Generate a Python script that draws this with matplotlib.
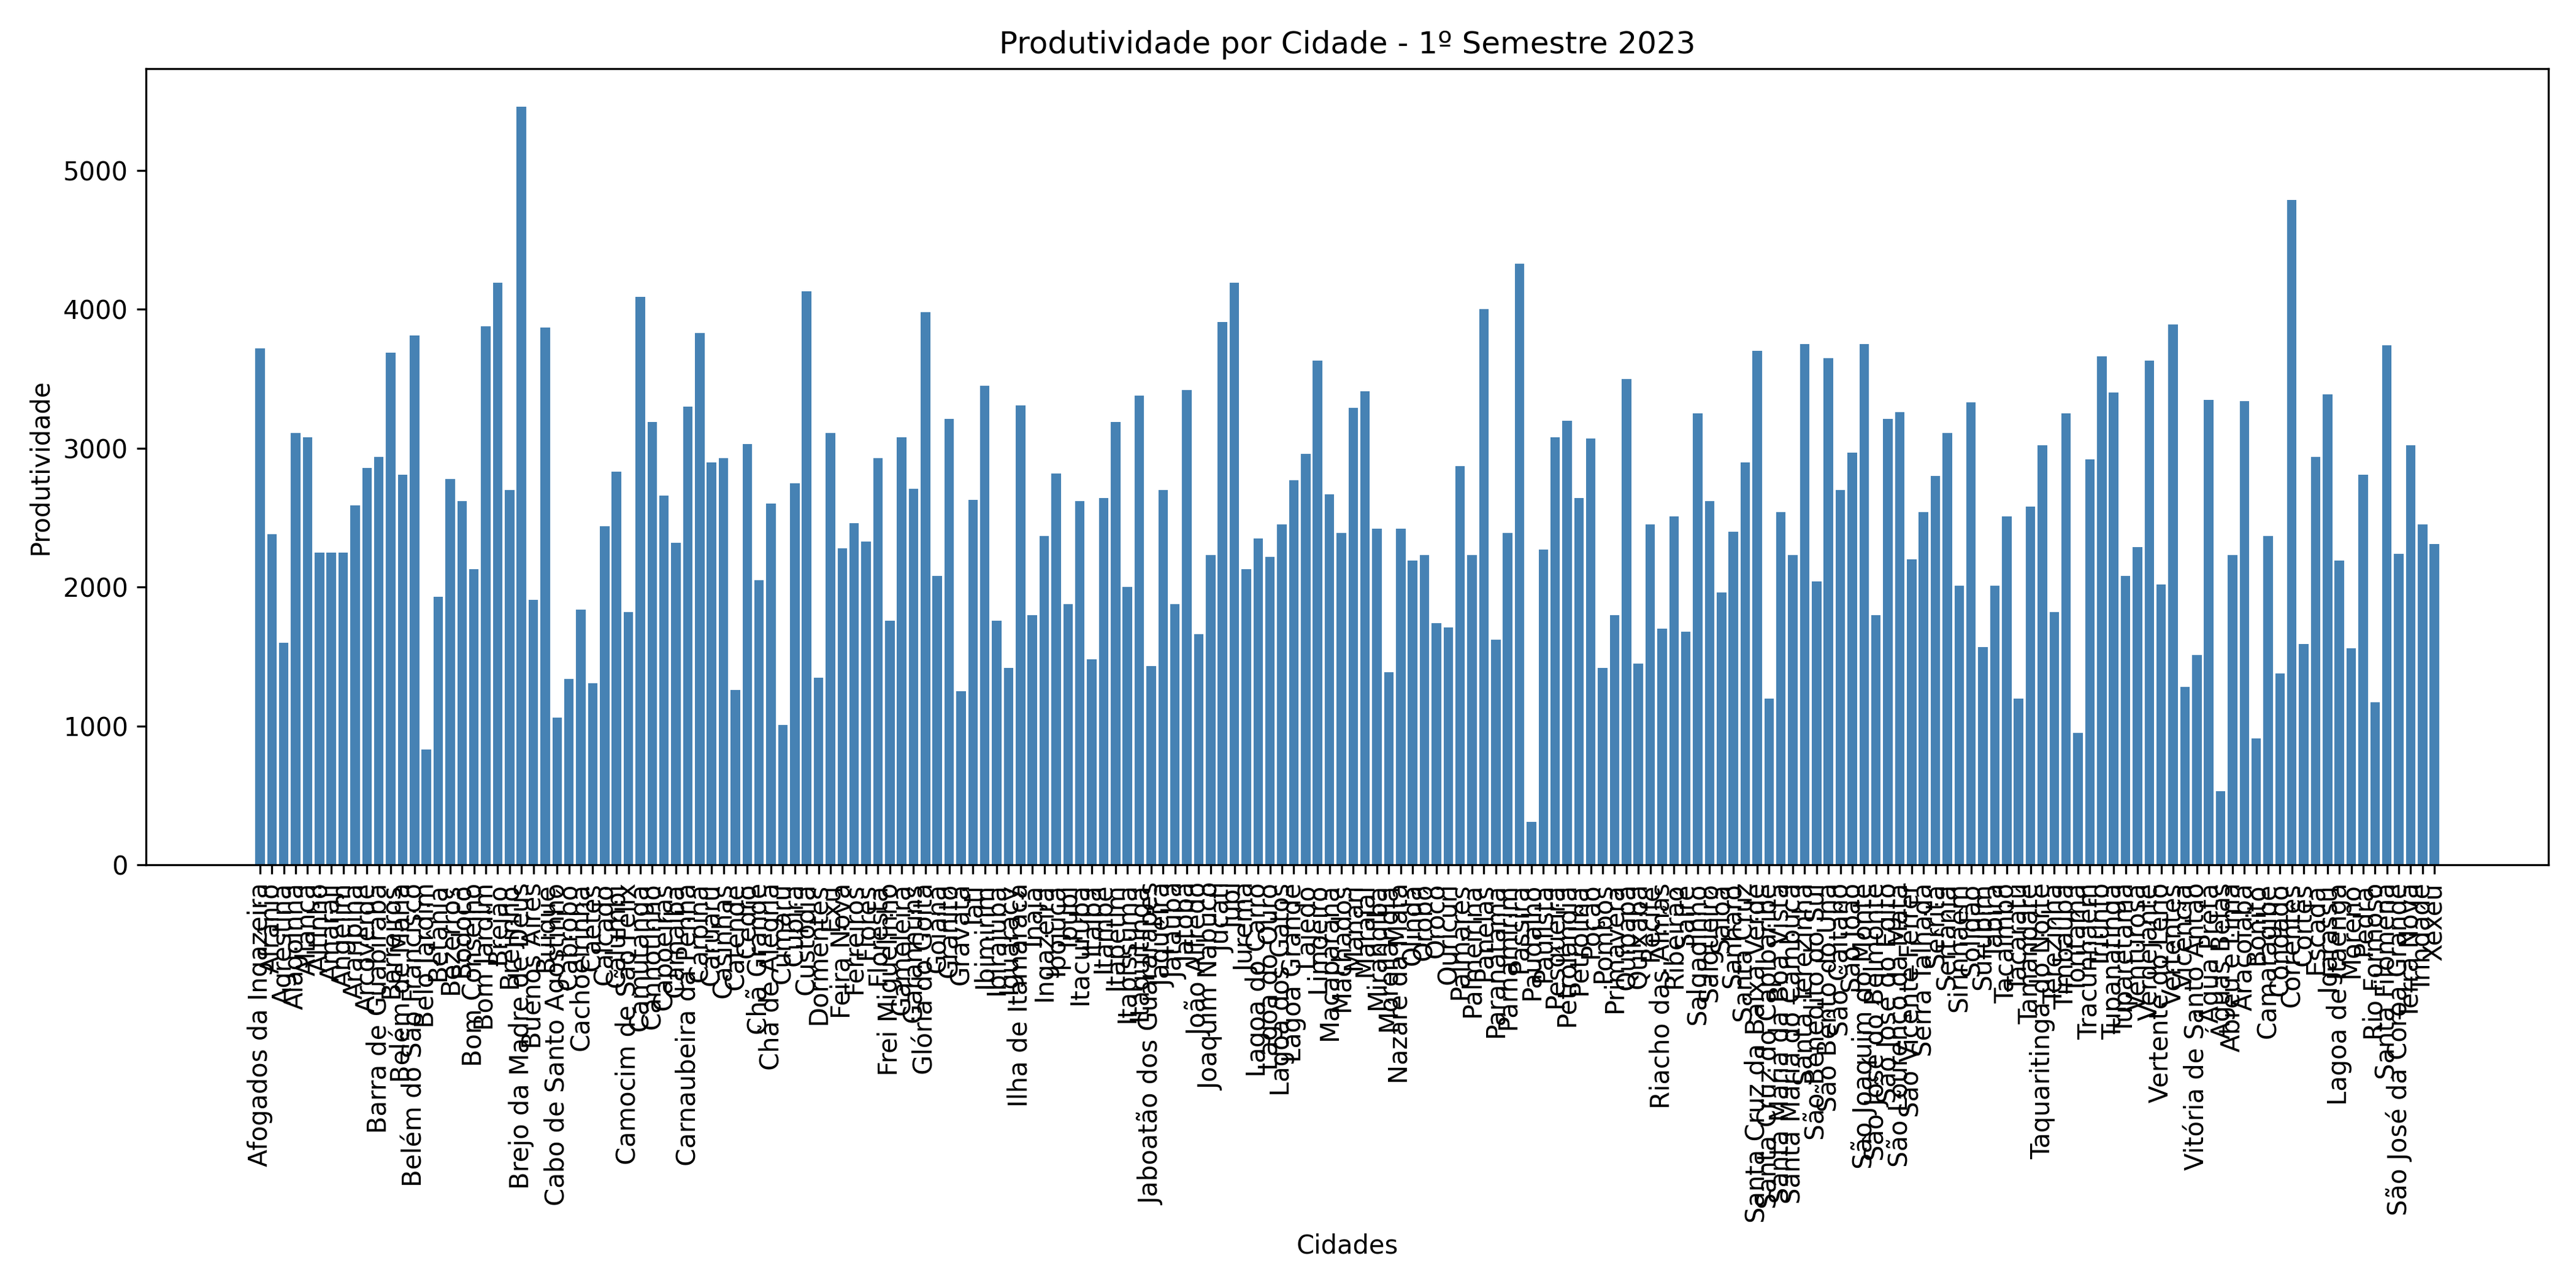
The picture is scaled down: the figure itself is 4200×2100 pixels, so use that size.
import matplotlib
matplotlib.use('Agg')
import matplotlib.pyplot as plt

cidades_main = [
    'Afogados da Ingazeira', 'Afrânio', 'Agrestina', 'Alagoinha', 'Aliança', 'Altinho', 'Amaraji',
    'Angelim', 'Araripina', 'Arcoverde', 'Barra de Guabiraba', 'Barreiros', 'Belém de Maria',
    'Belém do São Francisco', 'Belo Jardim', 'Betânia', 'Bezerros', 'Bodocó', 'Bom Conselho',
    'Bom Jardim', 'Brejão', 'Brejinho', 'Brejo da Madre de Deus', 'Buenos Aires', 'Buíque',
    'Cabo de Santo Agostinho', 'Cabrobó', 'Cachoeirinha', 'Caetés', 'Calçado', 'Calumbi',
    'Camocim de São Félix', 'Camutanga', 'Canhotinho', 'Capoeiras', 'Carnaíba',
    'Carnaubeira da Penha', 'Carpina', 'Caruaru', 'Casinhas', 'Catende', 'Cedro', 'Chã Grande',
    'Chã de Alegria', 'Cumaru', 'Cupira', 'Custódia', 'Dormentes', 'Exu', 'Feira Nova',
    'Ferreiros', 'Flores', 'Floresta', 'Frei Miguelinho', 'Gameleira', 'Garanhuns',
    'Glória do Goitá', 'Goiana', 'Granito', 'Gravatá', 'Iati', 'Ibimirim', 'Ibirajuba',
    'Iguaracy', 'Ilha de Itamaracá', 'Inajá', 'Ingazeira', 'Ipojuca', 'Ipubi', 'Itacuruba',
    'Itaíba', 'Itambé', 'Itapetim', 'Itapissuma', 'Itaquitinga', 'Jaboatão dos Guararapes',
    'Jaqueira', 'Jataúba', 'Jatobá', 'João Alfredo', 'Joaquim Nabuco', 'Jucati', 'Jupi',
    'Jurema', 'Lagoa do Carro', 'Lagoa do Ouro', 'Lagoa dos Gatos', 'Lagoa Grande', 'Lajedo',
    'Limoeiro', 'Macaparana', 'Machados', 'Manari', 'Maraial', 'Mirandiba', 'Moreilândia',
    'Nazaré da Mata', 'Olinda', 'Orobó', 'Orocó', 'Ouricuri', 'Palmares', 'Palmeirina',
    'Panelas', 'Paranatama', 'Parnamirim', 'Passira', 'Paudalho', 'Paulista', 'Pesqueira',
    'Petrolândia', 'Petrolina', 'Poção', 'Pombos', 'Primavera', 'Quipapá', 'Quixaba', 'Recife',
    'Riacho das Almas', 'Ribeirão', 'Sairé', 'Salgadinho', 'Salgueiro', 'Saloá', 'Sanharó',
    'Santa Cruz', 'Santa Cruz da Baixa Verde', 'Santa Cruz do Capibaribe',
    'Santa Maria da Boa Vista', 'Santa Maria do Cambucá', 'Santa Terezinha',
    'São Benedito do Sul', 'São Bento do Una', 'São Caitano', 'São João',
    'São Joaquim do Monte', 'São José do Belmonte', 'São José do Egito',
    'São Lourenço da Mata', 'São Vicente Férrer', 'Serra Talhada', 'Serrita', 'Sertânia',
    'Sirinhaém', 'Solidão', 'Surubim', 'Tabira', 'Tacaimbó', 'Tacaratu', 'Tamandaré',
    'Taquaritinga do Norte', 'Terezinha', 'Timbaúba', 'Toritama', 'Tracunhaém', 'Triunfo',
    'Tupanatinga', 'Tuparetama', 'Venturosa', 'Verdejante', 'Vertente do Lério', 'Vertentes',
    'Vicência', 'Vitória de Santo Antão',
]
cidades_extra = [
    'Água Preta', 'Águas Belas', 'Abreu e Lima', 'Araçoiaba', 'Bonito', 'Camaragibe', 'Condado',
    'Correntes', 'Cortês', 'Escada', 'Igarassu', 'Lagoa de Itaenga', 'Moreno', 'Pedra',
    'Rio Formoso', 'Santa Filomena', 'São José da Coroa Grande', 'Terra Nova', 'Trindade',
    'Xexéu',
]
cidades = cidades_main + cidades_extra

produtividade = [
    3720, 2380, 1600, 3110, 3080, 2250, 2250, 2250, 2590, 2860,
    2940, 3690, 2810, 3810, 830, 1930, 2780, 2620, 2130, 3880,
    4190, 2700, 5460, 1910, 3870, 1060, 1340, 1840, 1310, 2440,
    2830, 1820, 4090, 3190, 2660, 2320, 3300, 3830, 2900, 2930,
    1260, 3030, 2050, 2600, 1010, 2750, 4130, 1350, 3110, 2280,
    2460, 2330, 2930, 1760, 3080, 2710, 3980, 2080, 3210, 1250,
    2630, 3450, 1760, 1420, 3310, 1800, 2370, 2820, 1880, 2620,
    1480, 2640, 3190, 2000, 3380, 1430, 2700, 1880, 3420, 1660,
    2230, 3910, 4190, 2130, 2350, 2220, 2450, 2770, 2960, 3630,
    2670, 2390, 3290, 3410, 2420, 1390, 2420, 2190, 2230, 1740,
    1710, 2870, 2230, 4000, 1620, 2390, 4330, 310, 2270, 3080,
    3200, 2640, 3070, 1420, 1800, 3500, 1450, 2450, 1700, 2510,
    1680, 3250, 2620, 1960, 2400, 2900, 3700, 1200, 2540, 2230,
    3750, 2040, 3650, 2700, 2970, 3750, 1800, 3210, 3260, 2200,
    2540, 2800, 3110, 2010, 3330, 1570, 2010, 2510, 1200, 2580,
    3020, 1820, 3250, 950, 2920, 3660, 3400, 2080, 2290, 3630,
    2020, 3890, 1280, 1510, 3350, 530, 2230, 3340, 910, 2370,
    1380, 4790, 1590, 2940, 3390, 2190, 1560, 2810, 1170, 3740,
    2240, 3020, 2450, 2310,
]

fig, ax = plt.subplots(figsize=(14, 7))
ax.bar(cidades, produtividade, color='steelblue')
ax.set_title('Produtividade por Cidade - 1º Semestre 2023')
ax.set_xlabel('Cidades')
ax.set_ylabel('Produtividade')
plt.xticks(rotation=90)
fig.tight_layout()
fig.savefig('out.png', dpi=300)
